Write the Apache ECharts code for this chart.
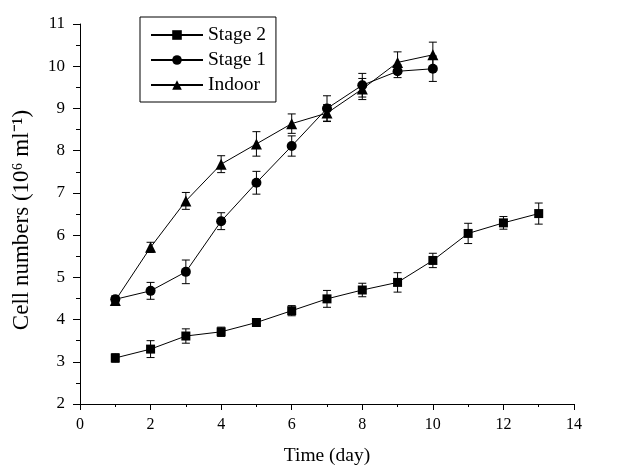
<!DOCTYPE html>
<html>
<head>
<meta charset="utf-8">
<script src="https://cdn.jsdelivr.net/npm/echarts@6/dist/echarts.min.js"></script>
<style>
  html, body { margin: 0; padding: 0; background: #fff; }
  #chart { width: 617px; height: 465px; }
</style>
</head>
<body>
<div id="chart"></div>
<script>
// data
var days = [1, 2, 3, 4, 5, 6, 7, 8, 9, 10, 11, 12, 13];
var stage2 = [3.09, 3.30, 3.61, 3.71, 3.93, 4.21, 4.49, 4.70, 4.88, 5.40, 6.04, 6.29, 6.51];
var stage2Err = [0.10, 0.20, 0.17, 0.11, 0.06, 0.12, 0.20, 0.16, 0.23, 0.17, 0.24, 0.15, 0.25];
var stage1 = [4.48, 4.68, 5.13, 6.33, 7.24, 8.11, 9.00, 9.55, 9.88, 9.94];
var stage1Err = [0.08, 0.20, 0.28, 0.20, 0.27, 0.24, 0.30, 0.28, 0.15, 0.30];
var indoor = [4.45, 5.71, 6.81, 7.68, 8.16, 8.64, 8.89, 9.46, 10.09, 10.27];
var indoorErr = [0.10, 0.12, 0.20, 0.20, 0.29, 0.23, 0.20, 0.25, 0.25, 0.30];

var font = 'Liberation Serif';

function pts(vals) {
  return vals.map(function (v, i) { return [days[i], v]; });
}
function errs(vals, e) {
  return vals.map(function (v, i) { return [days[i], v - e[i], v + e[i]]; });
}

function errorBar(name, data) {
  return {
    type: 'custom',
    name: name + ' err',
    data: data,
    z: 1,
    silent: true,
    encode: { x: 0, y: [1, 2] },
    renderItem: function (params, api) {
      var lo = api.coord([api.value(0), api.value(1)]);
      var hi = api.coord([api.value(0), api.value(2)]);
      var w = 4;
      var st = { stroke: '#000', lineWidth: 1 };
      return {
        type: 'group',
        children: [
          { type: 'line', shape: { x1: lo[0], y1: lo[1], x2: hi[0], y2: hi[1] }, style: st },
          { type: 'line', shape: { x1: lo[0] - w, y1: lo[1], x2: lo[0] + w, y2: lo[1] }, style: st },
          { type: 'line', shape: { x1: hi[0] - w, y1: hi[1], x2: hi[0] + w, y2: hi[1] }, style: st }
        ]
      };
    }
  };
}

function lineSeries(name, data, symbol, size) {
  return {
    type: 'line',
    name: name,
    data: data,
    symbol: symbol,
    symbolSize: size,
    showAllSymbol: true,
    z: 3,
    lineStyle: { color: '#000', width: 1 },
    itemStyle: { color: '#000', opacity: 1 },
    emphasis: { disabled: true }
  };
}

var chart = echarts.init(document.getElementById('chart'));
chart.setOption({
  animation: false,
  backgroundColor: '#fff',
  grid: { left: 80, right: 43, top: 24, bottom: 61, outerBoundsMode: 'none', containLabel: false },
  legend: {
    left: 140,
    top: 17,
    orient: 'vertical',
    data: ['Stage 2', 'Stage 1', 'Indoor'],
    itemWidth: 52,
    itemHeight: 12,
    itemGap: 5,
    padding: [8, 10, 7, 10],
    borderColor: '#000',
    borderWidth: 1,
    borderRadius: 0,
    textStyle: { fontFamily: font, fontSize: 19.5, lineHeight: 20, color: '#000' }
  },
  xAxis: {
    type: 'value',
    min: 0, max: 14, interval: 2,
    name: 'Time (day)',
    nameLocation: 'middle',
    nameGap: 42,
    nameTextStyle: { fontFamily: font, fontSize: 19.5, color: '#000' },
    axisLine: { lineStyle: { color: '#000', width: 1 } },
    axisTick: { length: 6, lineStyle: { color: '#000' } },
    minorTick: { show: true, splitNumber: 2, length: 3, lineStyle: { color: '#000' } },
    axisLabel: { fontFamily: font, fontSize: 16, color: '#000', margin: 13 },
    splitLine: { show: false }
  },
  yAxis: {
    type: 'value',
    min: 2, max: 11, interval: 1,
    name: 'Cell numbers (10\u2076 ml\u207B\u00B9)',
    nameLocation: 'middle',
    nameGap: 47,
    nameTextStyle: { fontFamily: font, fontSize: 23, color: '#000', padding: [0, 12, 0, 0] },
    axisLine: { show: true, lineStyle: { color: '#000', width: 1 } },
    axisTick: { show: true, length: 7, lineStyle: { color: '#000' } },
    minorTick: { show: true, splitNumber: 2, length: 4, lineStyle: { color: '#000' } },
    axisLabel: { fontFamily: font, fontSize: 17, color: '#000', margin: 15 },
    splitLine: { show: false }
  },
  series: [
    errorBar('Stage 2', errs(stage2, stage2Err)),
    errorBar('Stage 1', errs(stage1, stage1Err)),
    errorBar('Indoor', errs(indoor, indoorErr)),
    lineSeries('Stage 2', pts(stage2), 'rect', 9),
    lineSeries('Stage 1', pts(stage1), 'circle', 10),
    lineSeries('Indoor', pts(indoor), 'triangle', 11)
  ]
});
</script>
</body>
</html>
